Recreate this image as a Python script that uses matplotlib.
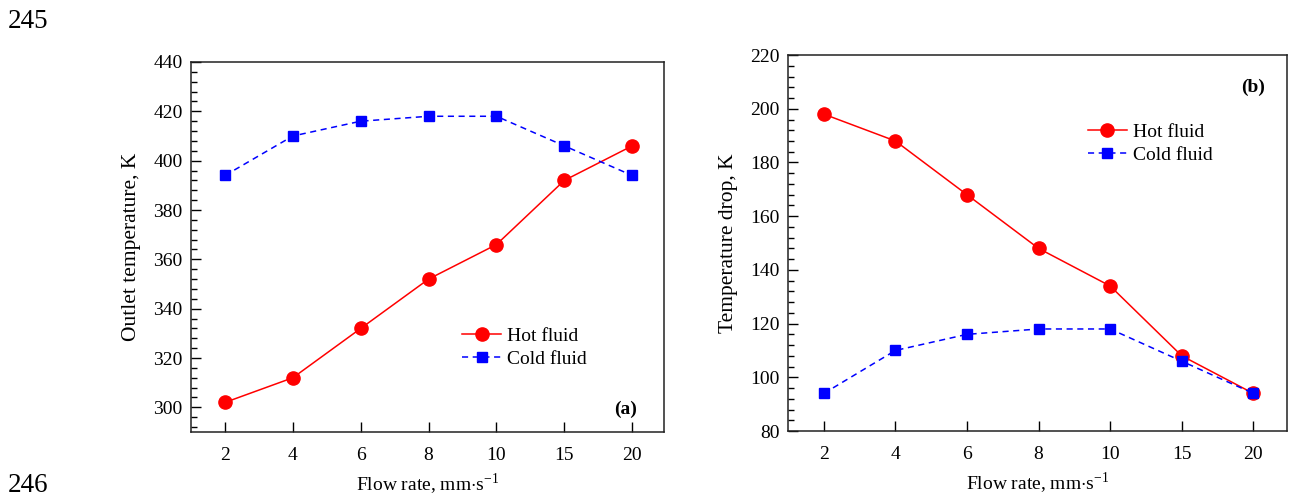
import matplotlib
matplotlib.use("Agg")
import matplotlib.pyplot as plt
from matplotlib.ticker import MultipleLocator

plt.rcParams["font.family"] = ["Liberation Serif", "DejaVu Serif"]
plt.rcParams["mathtext.fontset"] = "custom"
plt.rcParams["mathtext.rm"] = "Liberation Serif"

flow_labels = ["2", "4", "6", "8", "10", "15", "20"]

outlet_hot = [302, 312, 332, 352, 366, 392, 406]
outlet_cold = [394, 410, 416, 418, 418, 406, 394]

drop_hot = [198, 188, 168, 148, 134, 108, 94]
drop_cold = [94, 110, 116, 118, 118, 106, 94]

RED = "#ff0000"
BLUE = "#0000ff"
FS = 14


def draw_panel(ax, hot, cold, ylim, ylabel, tag, tag_pos, leg_pos):
    x = list(range(len(flow_labels)))
    ax.plot(x, hot, color=RED, lw=1.1, marker="o", markersize=9.5,
            label="Hot fluid")
    ax.plot(x, cold, color=BLUE, lw=1.1, ls=(0, (4, 3)), marker="s",
            markersize=7.5, label="Cold fluid")

    ax.set_xlim(-0.5, 6.47)
    ax.set_ylim(*ylim)
    ax.set_xticks(x)
    ax.set_xticklabels(flow_labels)
    ax.yaxis.set_major_locator(MultipleLocator(20))
    ax.yaxis.set_minor_locator(MultipleLocator(4))
    ax.tick_params(axis="both", which="major", direction="in", length=7,
                   width=1, labelsize=FS)
    ax.tick_params(axis="x", which="major", pad=11)
    ax.tick_params(axis="y", which="major", pad=6)
    ax.tick_params(axis="y", which="minor", direction="in", length=4, width=1)
    for sp in ax.spines.values():
        sp.set_linewidth(1.1)
        sp.set_color("#222222")

    ax.set_xlabel(r"Flow rate, mm$\cdot$s$^{-1}$", fontsize=FS, labelpad=5)
    ax.set_ylabel(ylabel, fontsize=15.5, labelpad=9)

    ax.text(tag_pos[0], tag_pos[1], tag, transform=ax.transAxes,
            fontsize=FS, fontweight="bold", ha="right", va="center")

    ax.legend(loc="upper left", bbox_to_anchor=leg_pos, frameon=False,
              fontsize=FS, handlelength=2.0, handletextpad=0.3,
              labelspacing=0.3, borderpad=0, borderaxespad=0)


fig = plt.figure(figsize=(12.91, 4.96), dpi=100)
ax1 = fig.add_axes([0.148, 0.129, 0.3664, 0.746])
ax2 = fig.add_axes([0.6104, 0.131, 0.3865, 0.758])

draw_panel(ax1, outlet_hot, outlet_cold, (290, 440),
           "Outlet temperature, K", "(a)", (0.942, 0.062), (0.573, 0.284))
draw_panel(ax2, drop_hot, drop_cold, (80, 220),
           "Temperature drop, K", "(b)", (0.956, 0.915), (0.601, 0.819))

fig.text(0.006, 0.957, "245", fontsize=19.5, ha="left", va="center")
fig.text(0.006, 0.022, "246", fontsize=19.5, ha="left", va="center")

fig.savefig("out.png", dpi=100)
